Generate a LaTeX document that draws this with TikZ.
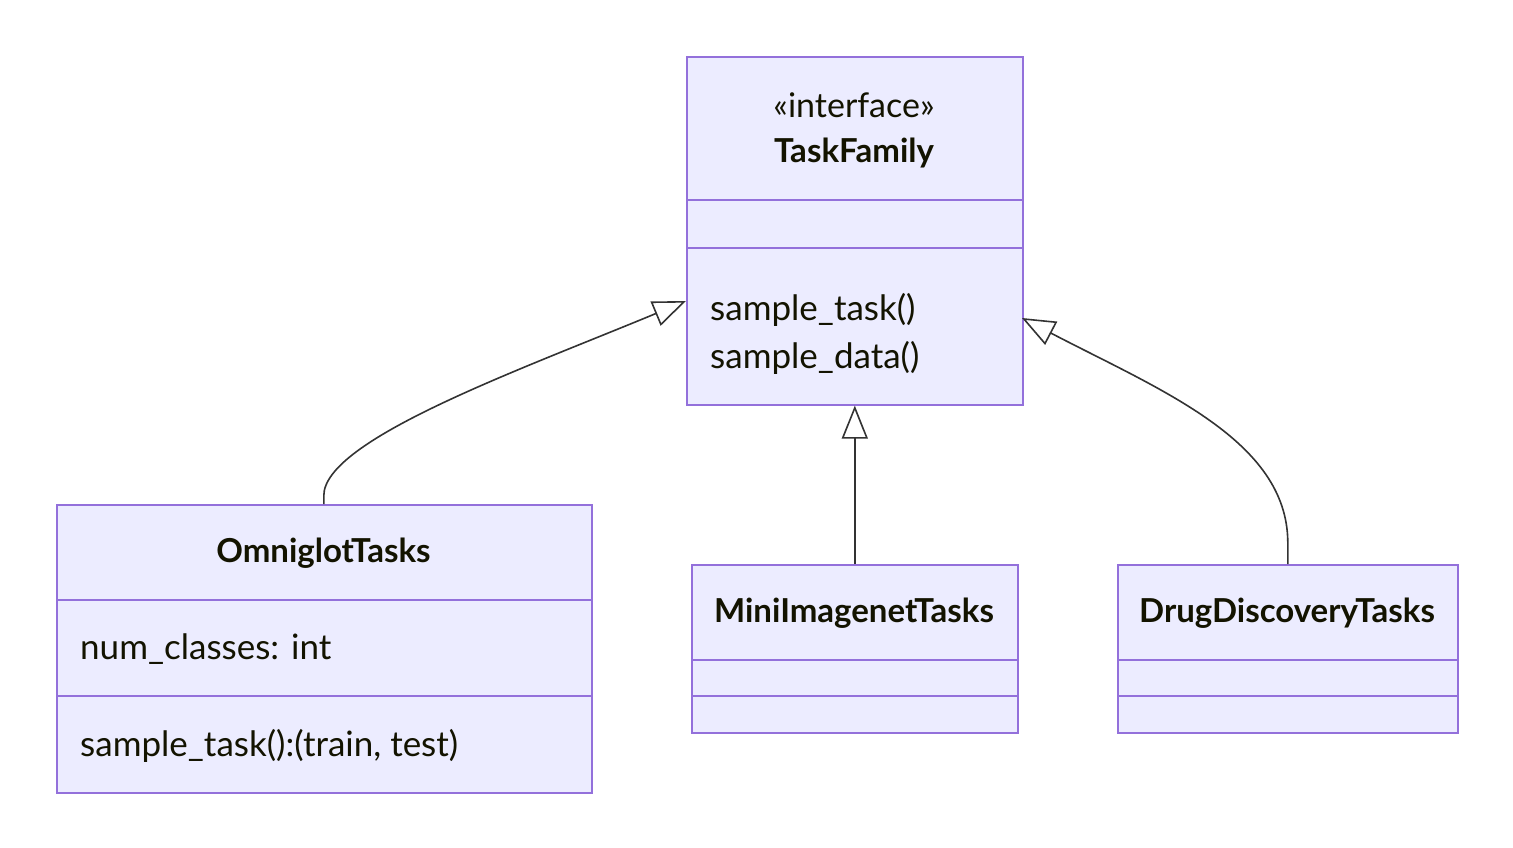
\documentclass[tikz,border=0pt]{standalone}
\usepackage{fontspec}
\setmainfont{Lato}
\usetikzlibrary{arrows.meta}
\definecolor{boxfill}{HTML}{ECECFF}
\definecolor{boxline}{HTML}{9370DB}
\definecolor{edgec}{HTML}{333333}
\definecolor{txt}{HTML}{131300}
\tikzset{
  cls/.style={draw=boxline, fill=boxfill, line width=1.6pt, inner sep=0pt, anchor=north west},
  sep/.style={draw=boxline, line width=1.6pt},
  lbl/.style={text=txt, font=\fontsize{34}{40}\selectfont, inner sep=0pt, yshift=-2.5pt},
  ttl/.style={lbl, font=\fontsize{33}{40}\selectfont\bfseries},
  mem/.style={lbl, font=\fontsize{35}{40}\selectfont, anchor=west},
  inh/.style={draw=edgec, line width=1.6pt, -{Triangle[open, length=33pt, width=26pt, fill=white]}},
}
\begin{document}
\begin{tikzpicture}[x=1pt, y=-1pt]
\useasboundingbox (0,0) rectangle (1513,848);
% TaskFamily
\node[cls, minimum width=336pt, minimum height=348pt] (tf) at (686,56) {};
\draw[sep] (686,200) -- (1022,200);
\draw[sep] (686,248) -- (1022,248);
\node[lbl] (tfst) at (854,103) {«interface»};
\node[ttl] (tft) at (854,151) {TaskFamily};
\node[mem] (tfm1) at (710,307) {sample\_task()};
\node[mem] (tfm2) at (710,355) {sample\_data()};
% Omniglot
\node[cls, minimum width=535pt, minimum height=288pt] (om) at (56,504) {};
\draw[sep] (56,600) -- (591,600);
\draw[sep] (56,696) -- (591,696);
\node[ttl] (omt) at (323.5,551) {OmniglotTasks};
\node[mem] (oma) at (80,647) {num\_classes: int};
\node[mem] (omm) at (80,743) {sample\_task():(train, test)};
% MiniImagenet
\node[cls, minimum width=326pt, minimum height=168pt] (mi) at (691,564) {};
\draw[sep] (691,660) -- (1017,660);
\draw[sep] (691,696) -- (1017,696);
\node[ttl] (mit) at (854,611) {MiniImagenetTasks};
% DrugDiscovery
\node[cls, minimum width=340pt, minimum height=168pt] (dd) at (1117,564) {};
\draw[sep] (1117,660) -- (1457,660);
\draw[sep] (1117,696) -- (1457,696);
\node[ttl] (ddt) at (1287,611) {DrugDiscoveryTasks};
% edges
\coordinate (tipL) at (686,301);
\coordinate (tipR) at (1022,318);
\draw[inh] (om.north) ++(-0.5,0) -- ++(0,-8) .. controls (323,440) and (520,370) .. (tipL);
\draw[inh] (mi.north) -- (tf.south);
\draw[inh] (dd.north) -- ++(0,-22) .. controls (1287,440) and (1160,390) .. (tipR);
\end{tikzpicture}
\end{document}
